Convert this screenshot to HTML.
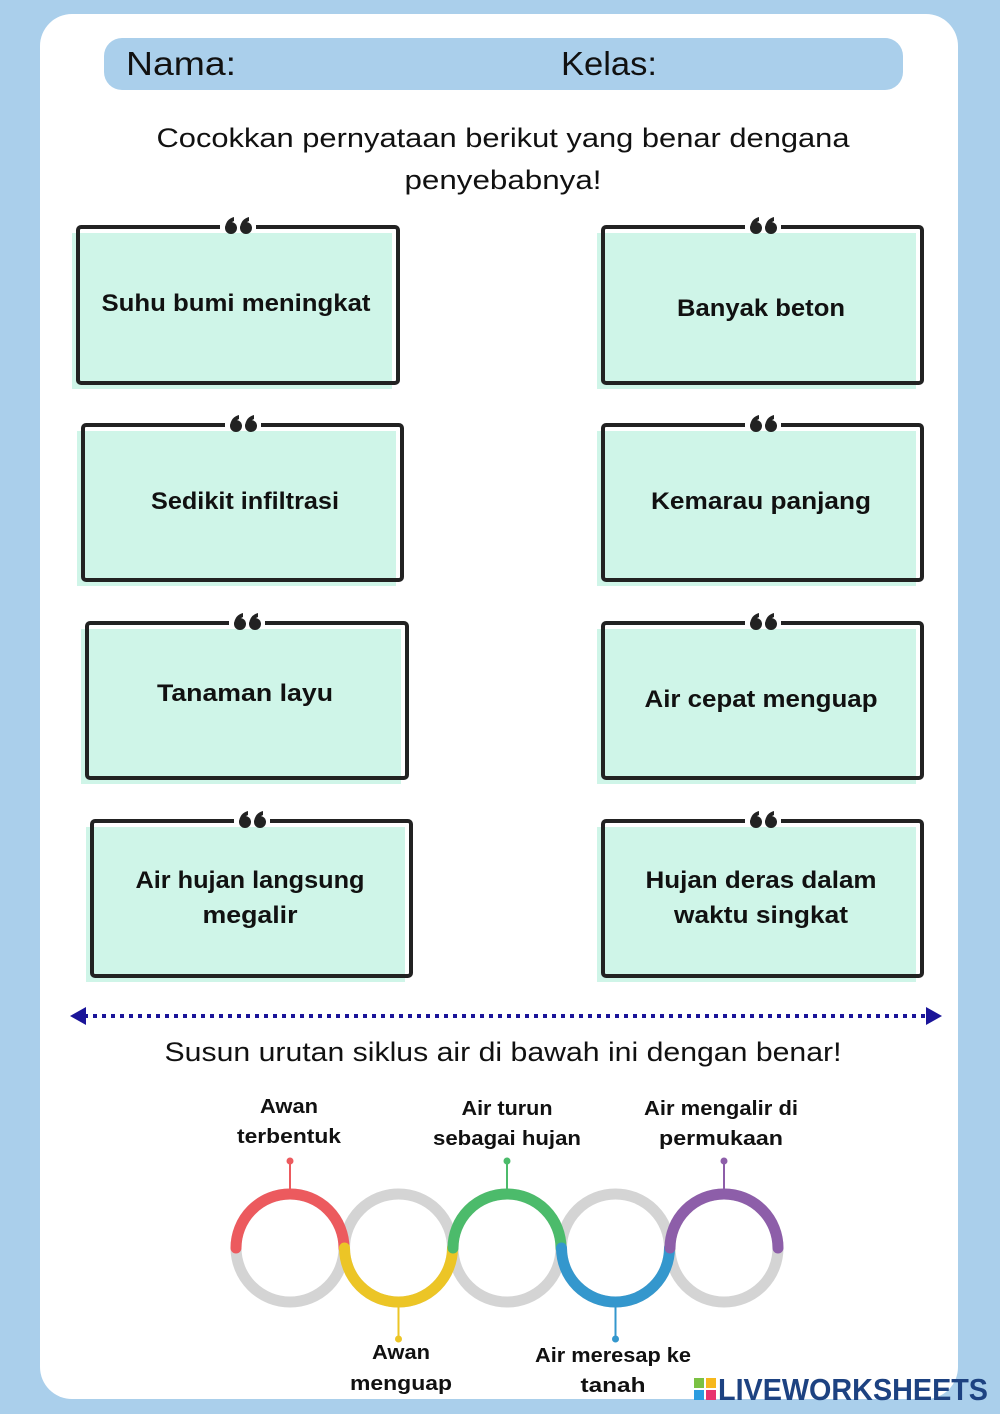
<!DOCTYPE html>
<html><head><meta charset="utf-8"><style>
html,body{margin:0;padding:0;background:#aacfeb;}
svg{display:block;}
text{font-family:"Liberation Sans",sans-serif;}
.b{font-weight:bold;fill:#111;font-size:24px;}
.c{font-weight:bold;fill:#111;font-size:20px;}
.r{fill:#111;font-size:27px;}
</style></head><body>
<svg width="1000" height="1414" viewBox="0 0 1000 1414" xmlns="http://www.w3.org/2000/svg">
<rect width="1000" height="1414" fill="#aacfeb"/>
<rect x="40" y="14" width="918" height="1385" rx="32" fill="#fff"/>
<rect x="104" y="38" width="799" height="52" rx="18" fill="#aacfeb"/>
<text x="126" y="75" textLength="110" lengthAdjust="spacingAndGlyphs" style="font-size:33px;fill:#111">Nama:</text>
<text x="561" y="75" textLength="96" lengthAdjust="spacingAndGlyphs" style="font-size:33px;fill:#111">Kelas:</text>
<text class="r" x="503" y="147" text-anchor="middle" textLength="693" lengthAdjust="spacingAndGlyphs">Cocokkan pernyataan berikut yang benar dengana</text>
<text class="r" x="503" y="189" text-anchor="middle" textLength="197" lengthAdjust="spacingAndGlyphs">penyebabnya!</text>

<defs>
<g id="q">
<circle cx="-7" cy="3" r="6" fill="#222"/><path d="M-13,3 Q-12,-6 -4,-8 L-4,-4 Q-9,-2 -9,3Z" fill="#222"/>
<circle cx="8" cy="3" r="6" fill="#222"/><path d="M2,3 Q3,-6 11,-8 L11,-4 Q6,-2 6,3Z" fill="#222"/>
</g>
</defs>

<g fill="#cff5e8">
<rect x="72" y="233" width="320" height="156"/>
<rect x="77" y="431" width="319" height="155"/>
<rect x="81" y="629" width="320" height="155"/>
<rect x="86" y="827" width="319" height="155"/>
<rect x="597" y="233" width="319" height="156"/>
<rect x="597" y="431" width="319" height="155"/>
<rect x="597" y="629" width="319" height="155"/>
<rect x="597" y="827" width="319" height="155"/>
</g>
<g fill="none" stroke="#222" stroke-width="4">
<rect x="78" y="227" width="320" height="156" rx="3"/>
<rect x="83" y="425" width="319" height="155" rx="3"/>
<rect x="87" y="623" width="320" height="155" rx="3"/>
<rect x="92" y="821" width="319" height="155" rx="3"/>
<rect x="603" y="227" width="319" height="156" rx="3"/>
<rect x="603" y="425" width="319" height="155" rx="3"/>
<rect x="603" y="623" width="319" height="155" rx="3"/>
<rect x="603" y="821" width="319" height="155" rx="3"/>
</g>
<g fill="#fff">
<rect x="220" y="222" width="36" height="10"/>
<rect x="225" y="420" width="36" height="10"/>
<rect x="229" y="618" width="36" height="10"/>
<rect x="234" y="816" width="36" height="10"/>
<rect x="745" y="222" width="36" height="10"/>
<rect x="745" y="420" width="36" height="10"/>
<rect x="745" y="618" width="36" height="10"/>
<rect x="745" y="816" width="36" height="10"/>
</g>
<use href="#q" x="238" y="225"/>
<use href="#q" x="243" y="423"/>
<use href="#q" x="247" y="621"/>
<use href="#q" x="252" y="819"/>
<use href="#q" x="763" y="225"/>
<use href="#q" x="763" y="423"/>
<use href="#q" x="763" y="621"/>
<use href="#q" x="763" y="819"/>

<g lengthAdjust="spacingAndGlyphs">
<text class="b" x="236" y="311" text-anchor="middle" textLength="269" lengthAdjust="spacingAndGlyphs">Suhu bumi meningkat</text>
<text class="b" x="245" y="509" text-anchor="middle" textLength="188" lengthAdjust="spacingAndGlyphs">Sedikit infiltrasi</text>
<text class="b" x="245" y="701" text-anchor="middle" textLength="176" lengthAdjust="spacingAndGlyphs">Tanaman layu</text>
<text class="b" x="250" y="888" text-anchor="middle" textLength="229" lengthAdjust="spacingAndGlyphs">Air hujan langsung</text>
<text class="b" x="250" y="923" text-anchor="middle" textLength="95" lengthAdjust="spacingAndGlyphs">megalir</text>
<text class="b" x="761" y="316" text-anchor="middle" textLength="168" lengthAdjust="spacingAndGlyphs">Banyak beton</text>
<text class="b" x="761" y="509" text-anchor="middle" textLength="220" lengthAdjust="spacingAndGlyphs">Kemarau panjang</text>
<text class="b" x="761" y="707" text-anchor="middle" textLength="233" lengthAdjust="spacingAndGlyphs">Air cepat menguap</text>
<text class="b" x="761" y="888" text-anchor="middle" textLength="231" lengthAdjust="spacingAndGlyphs">Hujan deras dalam</text>
<text class="b" x="761" y="923" text-anchor="middle" textLength="174" lengthAdjust="spacingAndGlyphs">waktu singkat</text>
</g>

<line x1="84" y1="1016" x2="928" y2="1016" stroke="#1a1499" stroke-width="4" stroke-dasharray="4,5"/>
<path d="M70,1016 L86,1007 L86,1025Z" fill="#1a1499"/>
<path d="M942,1016 L926,1007 L926,1025Z" fill="#1a1499"/>

<text class="r" x="503" y="1061" text-anchor="middle" textLength="677" lengthAdjust="spacingAndGlyphs">Susun urutan siklus air di bawah ini dengan benar!</text>

<g fill="none" stroke="#d4d4d4" stroke-width="11">
<circle cx="290" cy="1248" r="54"/>
<circle cx="398.5" cy="1248" r="54"/>
<circle cx="507" cy="1248" r="54"/>
<circle cx="615.5" cy="1248" r="54"/>
<circle cx="724" cy="1248" r="54"/>
</g>
<g fill="none" stroke-width="11" stroke-linecap="round">
<path d="M236,1248 A54,54 0 0 1 344,1248" stroke="#ec5a5e"/>
<path d="M344.5,1248 A54,54 0 0 0 452.5,1248" stroke="#ecc526"/>
<path d="M453,1248 A54,54 0 0 1 561,1248" stroke="#4cbb6b"/>
<path d="M561.5,1248 A54,54 0 0 0 669.5,1248" stroke="#3497cd"/>
<path d="M670,1248 A54,54 0 0 1 778,1248" stroke="#8d5ea9"/>
</g>
<g stroke-width="2">
<line x1="290" y1="1162" x2="290" y2="1190" stroke="#ec5a5e"/><circle cx="290" cy="1161" r="3.5" fill="#ec5a5e"/>
<line x1="507" y1="1162" x2="507" y2="1190" stroke="#4cbb6b"/><circle cx="507" cy="1161" r="3.5" fill="#4cbb6b"/>
<line x1="724" y1="1162" x2="724" y2="1190" stroke="#8d5ea9"/><circle cx="724" cy="1161" r="3.5" fill="#8d5ea9"/>
<line x1="398.5" y1="1306" x2="398.5" y2="1338" stroke="#ecc526"/><circle cx="398.5" cy="1339" r="3.5" fill="#ecc526"/>
<line x1="615.5" y1="1306" x2="615.5" y2="1338" stroke="#3497cd"/><circle cx="615.5" cy="1339" r="3.5" fill="#3497cd"/>
</g>
<text class="c" x="289" y="1113" text-anchor="middle" textLength="58" lengthAdjust="spacingAndGlyphs">Awan</text>
<text class="c" x="289" y="1143" text-anchor="middle" textLength="104" lengthAdjust="spacingAndGlyphs">terbentuk</text>
<text class="c" x="507" y="1115" text-anchor="middle" textLength="91" lengthAdjust="spacingAndGlyphs">Air turun</text>
<text class="c" x="507" y="1145" text-anchor="middle" textLength="148" lengthAdjust="spacingAndGlyphs">sebagai hujan</text>
<text class="c" x="721" y="1115" text-anchor="middle" textLength="154" lengthAdjust="spacingAndGlyphs">Air mengalir di</text>
<text class="c" x="721" y="1145" text-anchor="middle" textLength="124" lengthAdjust="spacingAndGlyphs">permukaan</text>
<text class="c" x="401" y="1359" text-anchor="middle" textLength="58" lengthAdjust="spacingAndGlyphs">Awan</text>
<text class="c" x="401" y="1390" text-anchor="middle" textLength="102" lengthAdjust="spacingAndGlyphs">menguap</text>
<text class="c" x="613" y="1362" text-anchor="middle" textLength="156" lengthAdjust="spacingAndGlyphs">Air meresap ke</text>
<text class="c" x="613" y="1392" text-anchor="middle" textLength="65" lengthAdjust="spacingAndGlyphs">tanah</text>

<rect x="694" y="1378" width="10" height="10" fill="#7bc143"/>
<rect x="706" y="1378" width="10" height="10" fill="#f6b81c"/>
<rect x="694" y="1390" width="10" height="10" fill="#2c9de0"/>
<rect x="706" y="1390" width="10" height="10" fill="#e8336f"/>
<text x="718" y="1400" textLength="270" lengthAdjust="spacingAndGlyphs" style="font-size:31px;font-weight:bold;fill:#1d4281">LIVEWORKSHEETS</text>
</svg>
</body></html>
